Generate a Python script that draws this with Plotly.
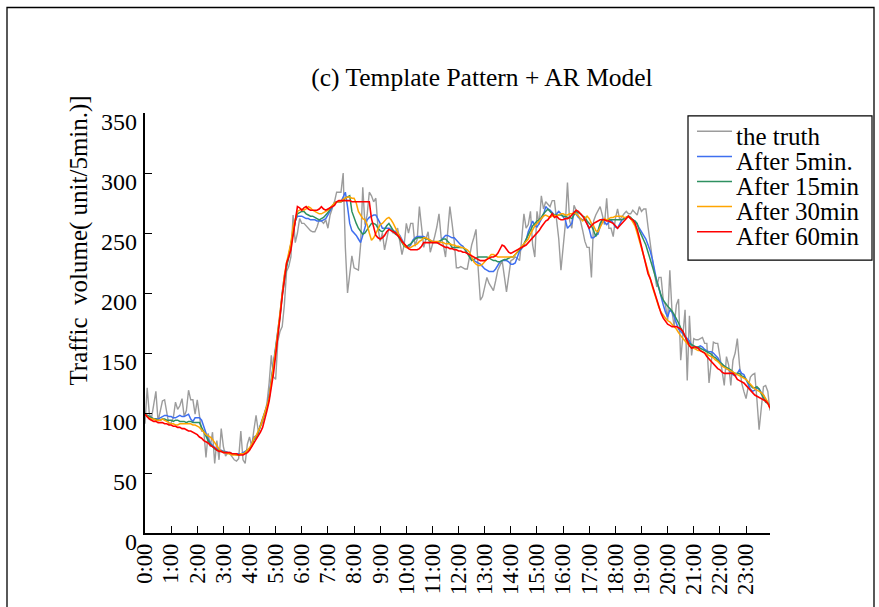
import plotly.graph_objects as go

# ---------------- data (5-minute samples, 0:00 .. 23:55) ----------------
minutes = list(range(0, 1440, 5))
hour_labels = [f"{h}:00" for h in range(24)]
y_ticks = [0, 50, 100, 150, 200, 250, 300, 350]

truth = [
    91, 121, 99, 96, 107, 118, 93, 102, 110, 111, 100, 90,
    92, 96, 109, 103, 106, 112, 97, 102, 119, 111, 111, 99,
    111, 99, 85, 85, 63, 83, 72, 84, 58, 77, 61, 87,
    72, 64, 67, 66, 63, 61, 60, 62, 85, 61, 58, 74,
    80, 72, 86, 98, 85, 88, 92, 100, 108, 125, 148, 130,
    128, 160, 168, 172, 190, 218, 222, 230, 265, 242, 250, 262,
    258, 258, 256, 254, 252, 251, 251, 255, 261, 260, 258, 261,
    254, 265, 270, 276, 284, 284, 284, 300, 238, 200, 216, 231,
    221, 220, 219, 240, 288, 257, 265, 284, 281, 276, 279, 254,
    243, 250, 236, 245, 254, 252, 250, 251, 254, 243, 232, 240,
    258, 250, 258, 258, 239, 245, 272, 255, 238, 245, 251, 234,
    240, 247, 255, 266, 246, 240, 230, 250, 272, 258, 243, 221,
    221, 222, 221, 220, 220, 232, 240, 246, 253, 220, 194, 197,
    205, 213, 208, 205, 202, 210, 219, 223, 227, 214, 201, 214,
    227, 228, 230, 229, 227, 245, 266, 254, 257, 268, 240, 230,
    268, 257, 281, 270, 276, 274, 272, 277, 277, 261, 245, 219,
    238, 257, 292, 260, 254, 273, 269, 265, 260, 252, 243, 238,
    238, 213, 260, 265, 269, 272, 265, 257, 279, 254, 254, 247,
    262, 270, 261, 264, 266, 268, 266, 266, 269, 267, 265, 272,
    268, 270, 270, 255, 240, 228, 216, 205, 213, 213, 194, 190,
    177, 219, 185, 172, 190, 195, 144, 163, 186, 127, 181, 148,
    162, 161, 161, 162, 163, 158, 158, 125, 142, 159, 158, 158,
    147, 135, 123, 147, 140, 123, 144, 150, 162, 140, 125, 118,
    112, 122, 130, 132, 133, 111, 86, 104, 122, 123, 118, 102,
]

after_5min = [
    99, 98, 97, 96, 95, 95, 95, 96, 97, 98, 98, 97,
    97, 96, 96, 97, 98, 97, 97, 98, 99, 95, 93, 96,
    96, 96, 94, 88, 82, 78, 75, 73, 71, 70, 69, 69,
    68, 68, 67, 67, 66, 66, 66, 66, 66, 67, 68, 69,
    70, 74, 80, 81, 83, 90, 96, 100, 106, 115, 128, 142,
    155, 168, 182, 200, 214, 222, 232, 240, 252, 260, 264, 264,
    264, 263, 262, 262, 261, 261, 261, 260, 260, 260, 261, 262,
    265, 268, 272, 275, 276, 276, 276, 280, 284, 272, 258, 252,
    250, 248, 245, 242, 248, 255, 261, 263, 264, 265, 265, 262,
    258, 254, 254, 254, 254, 253, 252, 251, 250, 248, 244, 241,
    239, 238, 240, 244, 246, 247, 247, 247, 247, 246, 245, 244,
    243, 243, 242, 242, 244, 246, 248, 248, 247, 246, 246, 244,
    242, 240, 239, 236, 233, 230, 228, 227, 226, 225, 224, 222,
    220, 219, 218, 218, 218, 220, 223, 226, 227, 227, 227, 226,
    224, 224, 225, 230, 235, 237, 240, 244, 251, 255, 260, 256,
    255, 258, 262, 265, 272, 270, 269, 267, 265, 266, 268, 266,
    263, 261, 254, 256, 258, 268, 265, 263, 262, 261, 261, 258,
    253, 246, 246, 248, 249, 255, 262, 259, 257, 259, 261, 258,
    255, 254, 258, 261, 262, 263, 264, 262, 261, 260, 257, 254,
    251, 248, 245, 240, 235, 228, 218, 210, 204, 196, 190, 184,
    180, 186, 184, 180, 174, 170, 168, 166, 164, 162, 160, 156,
    154, 154, 155, 156, 155, 153, 152, 151, 151, 150, 148, 146,
    143, 140, 139, 137, 136, 134, 132, 131, 133, 136, 133, 132,
    128, 123, 120, 118, 119, 121, 120, 117, 115, 111, 109, 105,
]

after_15min = [
    99, 98, 97, 96, 95, 95, 94, 94, 95, 95, 94, 94,
    94, 93, 94, 94, 93, 93, 93, 92, 93, 93, 92, 92,
    92, 92, 88, 84, 80, 77, 74, 72, 70, 69, 69, 68,
    68, 67, 67, 66, 66, 66, 65, 65, 66, 66, 67, 69,
    70, 73, 78, 80, 84, 89, 95, 100, 105, 112, 125, 140,
    152, 165, 180, 198, 212, 222, 230, 240, 252, 260, 266, 267,
    268, 268, 266, 265, 264, 264, 263, 262, 261, 262, 263, 265,
    267, 270, 273, 275, 276, 276, 276, 277, 279, 280, 281, 268,
    262, 258, 254, 251, 249, 250, 253, 255, 258, 258, 257, 254,
    252, 251, 253, 256, 258, 255, 252, 249, 248, 245, 241, 239,
    238, 240, 241, 243, 245, 246, 246, 246, 246, 245, 245, 243,
    242, 242, 242, 243, 244, 245, 245, 243, 241, 238, 238, 238,
    238, 238, 238, 236, 233, 229, 227, 228, 229, 230, 230, 230,
    230, 230, 229, 228, 227, 227, 226, 226, 227, 228, 228, 229,
    230, 230, 232, 234, 236, 238, 241, 245, 249, 253, 256, 258,
    260, 261, 263, 266, 268, 270, 268, 266, 265, 265, 265, 265,
    264, 264, 263, 263, 262, 265, 268, 267, 266, 264, 263, 260,
    258, 256, 252, 247, 252, 258, 261, 261, 261, 261, 261, 261,
    261, 261, 261, 261, 262, 263, 264, 263, 261, 260, 258, 252,
    248, 244, 240, 234, 228, 222, 215, 208, 202, 198, 194, 191,
    189, 187, 185, 182, 179, 175, 171, 167, 163, 160, 158, 157,
    156, 155, 155, 154, 153, 152, 151, 150, 149, 147, 146, 144,
    142, 141, 139, 138, 137, 136, 134, 133, 133, 133, 131, 130,
    128, 125, 123, 121, 121, 122, 120, 116, 112, 109, 108, 106,
]

after_30min = [
    99, 97, 96, 95, 95, 94, 94, 94, 95, 94, 93, 92,
    91, 91, 90, 90, 91, 91, 91, 91, 91, 91, 90, 90,
    89, 88, 86, 84, 82, 81, 80, 78, 75, 72, 70, 68,
    67, 67, 66, 66, 65, 65, 65, 65, 66, 66, 67, 69,
    71, 74, 79, 81, 85, 89, 95, 100, 106, 113, 125, 140,
    153, 168, 184, 200, 215, 225, 233, 242, 255, 262, 268, 269,
    270, 269, 270, 272, 271, 269, 268, 267, 266, 266, 267, 268,
    269, 271, 273, 275, 276, 276, 276, 278, 279, 280, 280, 279,
    279, 275, 268, 265, 262, 261, 257, 250, 244, 246, 250, 254,
    257, 258, 260, 262, 263, 261, 258, 254, 251, 247, 243, 240,
    238, 238, 238, 239, 240, 241, 243, 244, 246, 246, 245, 244,
    243, 243, 243, 243, 242, 242, 241, 241, 241, 240, 240, 239,
    239, 238, 238, 237, 236, 234, 230, 226, 224, 223, 223, 224,
    226, 228, 230, 232, 232, 231, 230, 230, 230, 230, 230, 230,
    230, 230, 232, 235, 237, 239, 241, 243, 245, 249, 253, 256,
    258, 260, 262, 264, 265, 264, 263, 264, 265, 264, 265, 266,
    266, 265, 265, 266, 266, 267, 266, 264, 262, 260, 262, 264,
    262, 258, 256, 252, 251, 255, 258, 262, 261, 262, 263, 263,
    264, 264, 264, 264, 263, 263, 264, 262, 259, 256, 250, 244,
    238, 232, 226, 219, 212, 205, 199, 193, 188, 184, 181, 179,
    177, 176, 174, 172, 170, 167, 164, 162, 160, 158, 156, 155,
    154, 153, 152, 152, 151, 150, 149, 148, 147, 146, 144, 143,
    141, 139, 138, 137, 136, 135, 134, 133, 132, 131, 130, 129,
    128, 126, 124, 122, 120, 119, 118, 117, 115, 112, 109, 104,
]

after_60min = [
    99, 97, 95, 94, 93, 93, 92, 92, 92, 91, 91, 90,
    90, 89, 89, 88, 88, 87, 87, 86, 85, 85, 84, 83,
    82, 80, 79, 77, 76, 75, 73, 72, 71, 69, 68, 68,
    67, 67, 67, 67, 66, 66, 66, 65, 65, 65, 66, 67,
    69, 72, 74, 77, 80, 84, 88, 94, 102, 110, 120, 133,
    148, 162, 180, 197, 212, 225, 230, 236, 248, 262, 272, 271,
    269, 271, 272, 270, 269, 269, 269, 269, 270, 272, 270, 269,
    270, 271, 272, 273, 276, 277, 277, 277, 277, 277, 277, 276,
    276, 276, 276, 276, 276, 276, 276, 276, 262, 254, 248, 246,
    245, 246, 248, 251, 253, 252, 251, 250, 248, 246, 243, 241,
    239, 237, 236, 236, 236, 236, 237, 239, 242, 242, 242, 242,
    242, 242, 242, 241, 240, 239, 238, 238, 237, 237, 236, 236,
    235, 235, 234, 234, 233, 232, 231, 230, 229, 228, 227, 227,
    227, 228, 229, 230, 230, 231, 233, 236, 240, 239, 236, 234,
    233, 234, 235, 236, 237, 238, 239, 240, 242, 244, 246, 248,
    250, 252, 255, 258, 260, 261, 264, 266, 263, 264, 262, 261,
    261, 262, 262, 263, 265, 267, 269, 268, 266, 264, 261, 258,
    254, 256, 258, 259, 260, 261, 261, 261, 260, 260, 259, 258,
    256, 254, 256, 258, 260, 262, 264, 262, 261, 258, 253, 246,
    238, 230, 222, 216, 212, 206, 199, 193, 188, 183, 179, 176,
    174, 173, 172, 172, 172, 171, 170, 168, 164, 160, 156, 154,
    155, 155, 154, 152, 151, 150, 147, 145, 143, 141, 139, 137,
    136, 134, 133, 133, 133, 133, 133, 131, 128, 127, 126, 125,
    123, 121, 119, 117, 115, 114, 113, 112, 111, 110, 108, 104,
]

series_names = ["the truth", "After 5min.", "After 15min", "After 30min", "After 60min"]
series_values = [truth, after_5min, after_15min, after_30min, after_60min]
series_colors = ["#9c9c9c", "#3f6ff0", "#2e9060", "#ffa500", "#ff0000"]
series_widths = [1.4, 1.5, 1.5, 1.5, 1.6]

for v in series_values:
    assert len(v) == len(minutes), len(v)

# ---------------- layout geometry (pixels) ----------------
W, H = 879, 607
L, R, T, B = 145, 109, 113, 66
PW, PH = W - L - R, H - T - B
FONT = "Liberation Serif, Times New Roman, serif"


def px(x):
    return (x - L) / PW


def py(y):
    return (H - B - y) / PH


x_hours = [m / 60 for m in minutes]

fig = go.Figure()
for name, vals, col, lw in zip(series_names, series_values, series_colors, series_widths):
    fig.add_trace(go.Scatter(x=x_hours, y=vals, mode="lines", name=name,
                             line=dict(color=col, width=lw), showlegend=False,
                             hoverinfo="skip"))

shapes = []
annotations = []

# outer frame
shapes.append(dict(type="rect", xref="paper", yref="paper",
                   x0=px(7), x1=px(874), y0=py(640), y1=py(5.5),
                   line=dict(color="black", width=1.3), fillcolor="rgba(0,0,0,0)", layer="below"))

# y tick labels (drawn slightly below the ticks as in the original)
for v in y_ticks:
    annotations.append(dict(x=px(139), xref="paper", y=v, yref="y", text=str(v),
                            showarrow=False, xanchor="right", yanchor="middle", yshift=-9,
                            font=dict(family=FONT, size=24, color="black")))

# y axis title
annotations.append(dict(x=px(79), xref="paper", y=py(243), yref="paper",
                        text="Traffic&nbsp;&nbsp;volume( unit/5min.)]", textangle=-90,
                        showarrow=False, xanchor="center", yanchor="middle",
                        font=dict(family=FONT, size=25, color="black")))

# custom legend box
shapes.append(dict(type="rect", xref="paper", yref="paper",
                   x0=px(688), x1=px(872), y0=py(263), y1=py(116),
                   line=dict(color="black", width=1.2), fillcolor="white", layer="above"))
row_y = [131.7, 157.3, 182.7, 208.3, 234.0]
for name, col, ry in zip(series_names, series_colors, row_y):
    shapes.append(dict(type="line", xref="paper", yref="paper",
                       x0=px(697), x1=px(732), y0=py(ry), y1=py(ry),
                       line=dict(color=col, width=1.5), layer="above"))
    annotations.append(dict(x=px(734), xref="paper", y=py(ry + 5), yref="paper", text=name,
                            showarrow=False, xanchor="left", yanchor="middle",
                            font=dict(family=FONT, size=25, color="black")))

fig.update_layout(
    width=W, height=H, autosize=False,
    margin=dict(l=L, r=R, t=T, b=B, pad=0),
    paper_bgcolor="white", plot_bgcolor="white",
    font=dict(family=FONT, size=22, color="black"),
    title=dict(text="(c) Template Pattern + AR Model", xref="container", yref="container",
               x=482 / W, y=1 - 77 / H, xanchor="center", yanchor="middle",
               font=dict(family=FONT, size=25.5, color="black")),
    showlegend=False,
    hovermode=False,
    shapes=shapes,
    annotations=annotations,
)
fig.update_xaxes(range=[0, 287 / 12], tickmode="array", tickvals=list(range(24)),
                 ticktext=hour_labels, tickangle=-90, ticks="inside", ticklen=7,
                 tickwidth=1.2, tickcolor="black", showline=True, linecolor="black",
                 linewidth=1.5, showgrid=False, zeroline=False,
                 tickfont=dict(family=FONT, size=22.5, color="black"))
fig.update_yaxes(range=[0, 350], tickmode="array", tickvals=y_ticks, showticklabels=False,
                 ticks="inside", ticklen=7, tickwidth=1.2, tickcolor="black",
                 showline=True, linecolor="black", linewidth=1.5,
                 showgrid=False, zeroline=False)

fig.write_html("out.html", config={"displayModeBar": False},
               post_script="document.body.style.margin='0px';")
